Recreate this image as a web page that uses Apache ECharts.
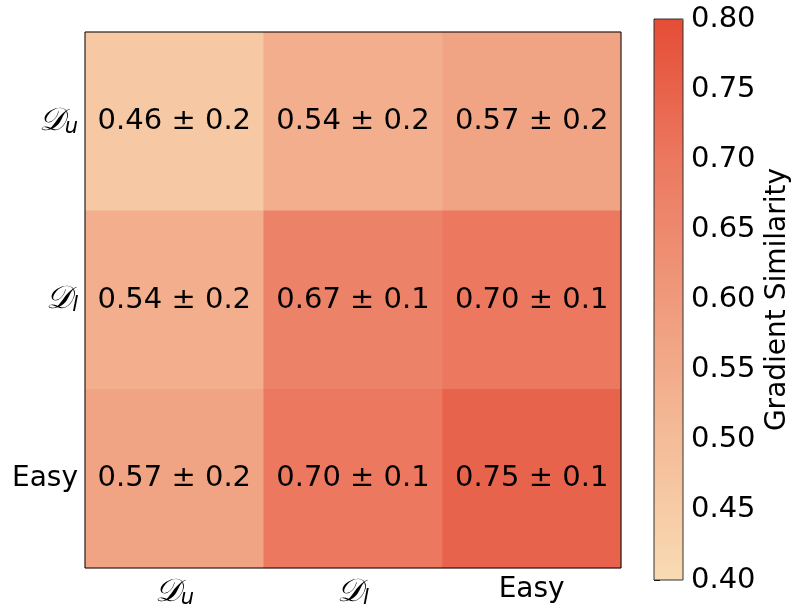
<!DOCTYPE html>
<html>
<head>
<meta charset="utf-8">
<script src="https://cdn.jsdelivr.net/npm/echarts@6/dist/echarts.min.js"></script>
<style>
  html, body { margin: 0; padding: 0; background: #fff; }
  #main { width: 797px; height: 613px; }
</style>
</head>
<body>
<div id="main"></div>
<script>
// categories (top to bottom / left to right)
var rowNames = ['Du', 'Dl', 'Easy'];
var colNames = ['Du', 'Dl', 'Easy'];
// mean gradient similarity, rows x cols
var meanVals = [
    [0.46, 0.54, 0.57],
    [0.54, 0.67, 0.70],
    [0.57, 0.70, 0.75]
];
var stdVals = [
    [0.2, 0.2, 0.2],
    [0.2, 0.1, 0.1],
    [0.2, 0.1, 0.1]
];
var cbTicks = [0.40, 0.45, 0.50, 0.55, 0.60, 0.65, 0.70, 0.75, 0.80];
var cmap = ['#f8dbb3', '#f4bc98', '#ef9a7c', '#eb785f', '#e54d36'];

var FONT = 'DejaVu Sans';

var heatData = [];
for (var r = 0; r < rowNames.length; r++) {
    for (var c = 0; c < colNames.length; c++) {
        heatData.push([c, r, meanVals[r][c], stdVals[r][c]]);
    }
}

// tick labels with script D and subscript
function catLabel(v) {
    if (v === 'Du') return '{d|𝒟}{s|u}';
    if (v === 'Dl') return '{d|𝒟}{s|l}';
    return '{n|' + v + '}';
}
var richLab = {
    d: { fontFamily: FONT, fontSize: 32, color: '#000', fontStyle: 'italic' },
    s: { fontFamily: FONT, fontSize: 21, color: '#000', fontStyle: 'italic', padding: [12, 0, 0, 0] },
    n: { fontFamily: FONT, fontSize: 28, color: '#000' }
};

var myChart = echarts.init(document.getElementById('main'));
myChart.setOption({
    animation: false,
    textStyle: { fontFamily: FONT },
    grid: [
        { left: 85, top: 32, width: 536, height: 536 },
        { left: 654, top: 19, width: 29, height: 561 }
    ],
    xAxis: [{
        type: 'category',
        data: colNames,
        gridIndex: 0,
        axisLine: { show: false },
        axisTick: { alignWithLabel: true, length: 6, lineStyle: { color: '#000' } },
        axisLabel: { formatter: catLabel, rich: richLab, margin: 8 },
        splitArea: { show: false }
    }, {
        type: 'value',
        gridIndex: 1,
        show: false
    }],
    yAxis: [{
        type: 'category',
        data: rowNames,
        inverse: true,
        gridIndex: 0,
        axisLine: { show: false },
        axisTick: { alignWithLabel: true, length: 6, lineStyle: { color: '#000' } },
        axisLabel: { formatter: catLabel, rich: richLab, margin: 7 },
        splitArea: { show: false }
    }, {
        type: 'value',
        gridIndex: 1,
        position: 'right',
        min: 0.4,
        max: 0.8,
        interval: 0.05,
        axisLine: { show: false },
        splitLine: { show: false },
        axisTick: { show: true, length: 6, lineStyle: { color: '#000' } },
        axisLabel: {
            fontFamily: FONT, fontSize: 29, color: '#000', margin: 8,
            formatter: function (v) { return v.toFixed(2); }
        },
        name: 'Gradient Similarity',
        nameLocation: 'middle',
        nameRotate: 90,
        nameGap: 81,
        nameTextStyle: { fontFamily: FONT, fontSize: 28, color: '#000' }
    }],
    visualMap: {
        type: 'continuous',
        min: cbTicks[0],
        max: cbTicks[cbTicks.length - 1],
        dimension: 2,
        seriesIndex: 0,
        calculable: false,
        realtime: false,
        left: 654,
        top: 19,
        itemWidth: 29,
        itemHeight: 561,
        padding: 0,
        text: null,
        showLabel: false,
        inRange: { color: cmap }
    },
    series: [{
        type: 'heatmap',
        xAxisIndex: 0,
        yAxisIndex: 0,
        data: heatData,
        label: {
            show: true,
            fontFamily: FONT,
            fontSize: 29,
            color: '#000',
            formatter: function (p) {
                return p.data[2].toFixed(2) + ' ± ' + p.data[3].toFixed(1);
            }
        },
        emphasis: { disabled: true }
    }],
    graphic: [{
        type: 'rect',
        shape: { x: 85, y: 32, width: 536, height: 536 },
        style: { fill: null, stroke: '#000', lineWidth: 1 },
        z: 100
    }, {
        type: 'rect',
        shape: { x: 654, y: 19, width: 29, height: 561 },
        style: { fill: null, stroke: '#333', lineWidth: 1 },
        z: 100
    }]
});
</script>
</body>
</html>
